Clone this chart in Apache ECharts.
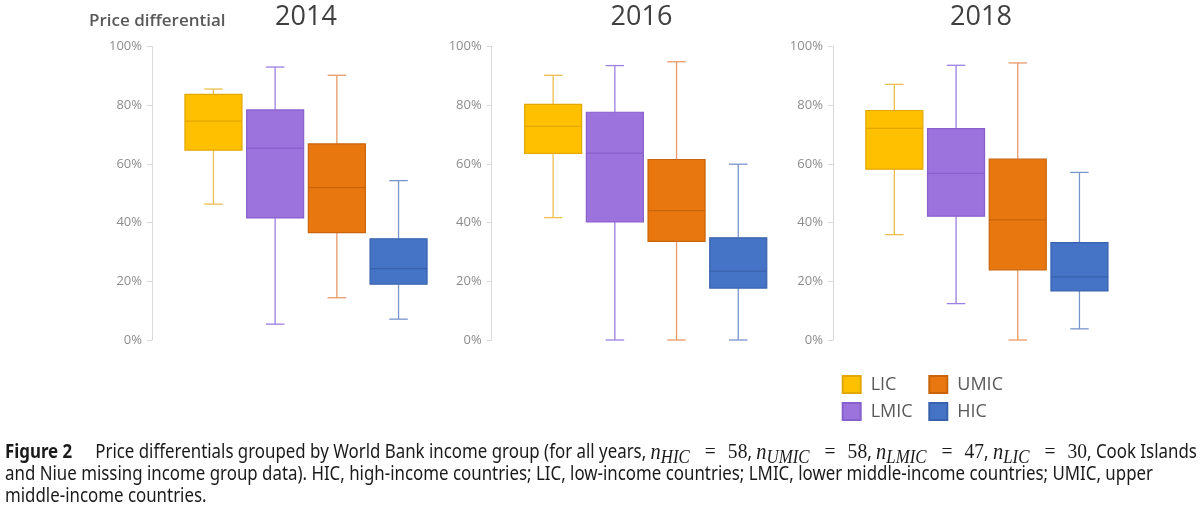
<!DOCTYPE html>
<html><head><meta charset="utf-8">
<script src="https://cdn.jsdelivr.net/npm/echarts@6/dist/echarts.min.js"></script>
<style>html,body{margin:0;padding:0;background:#fff}#c{width:1200px;height:521px}</style>
</head><body><div id="c"></div>
<script>
// ---------- data ----------
var years = ['2014', '2016', '2018'];
var groups = ['LIC', 'LMIC', 'UMIC', 'HIC'];
var yTickStep = 20;
// [min, Q1, median, Q3, max] in %, one row per year
var LIC  = [[46.3, 64.7, 74.6, 83.7, 85.5], [41.7, 63.6, 72.8, 80.3, 90.2], [35.9, 58.2, 72.1, 78.2, 87.1]];
var LMIC = [[5.4, 41.6, 65.4, 78.4, 93.0],  [0.0, 40.2, 63.7, 77.6, 93.5],  [12.4, 42.2, 56.8, 72.0, 93.6]];
var UMIC = [[14.4, 36.6, 51.9, 66.8, 90.2], [0.0, 33.6, 44.1, 61.5, 94.8],  [0.0, 23.9, 40.9, 61.6, 94.4]];
var HIC  = [[7.1, 19.0, 24.3, 34.5, 54.3],  [0.0, 17.7, 23.5, 34.8, 59.9],  [3.8, 16.7, 21.5, 33.2, 57.1]];
var valuesByGroup = { LIC: LIC, LMIC: LMIC, UMIC: UMIC, HIC: HIC };
var sampleSizes = [['HIC', '58'], ['UMIC', '58'], ['LMIC', '47'], ['LIC', '30']];

// ---------- styles ----------
var styles = {
  LIC:  { fill: '#FFC000', border: '#E2A700', whisker: '#EBBE4E' },
  LMIC: { fill: '#9C72DC', border: '#8760CC', whisker: '#9B7FE2' },
  UMIC: { fill: '#E8770F', border: '#C9640A', whisker: '#E99A66' },
  HIC:  { fill: '#4573C6', border: '#3962AC', whisker: '#7895CC' }
};
var gridCenters = [306, 645.7, 986.9];
var gridWidth = 246.8;
var axisOffset = 30.6;
var titleX = [306, 641.5, 981];

function makeRender(st) {
  return function (params, api) {
    var x = api.value(0);
    var p = [1, 2, 3, 4, 5].map(function (i) { return api.coord([x, api.value(i)]); });
    var band = api.size([1, 0])[0];
    var bw = band * 0.924, cw = band * 0.30;
    var cx = p[0][0];
    var ws = { stroke: st.whisker, lineWidth: 1.3 };
    return {
      type: 'group',
      children: [
        { type: 'line', shape: { x1: cx, y1: p[4][1], x2: cx, y2: p[3][1] }, style: ws },
        { type: 'line', shape: { x1: cx, y1: p[1][1], x2: cx, y2: p[0][1] }, style: ws },
        { type: 'line', shape: { x1: cx - cw / 2, y1: p[4][1], x2: cx + cw / 2, y2: p[4][1] }, style: ws },
        { type: 'line', shape: { x1: cx - cw / 2, y1: p[0][1], x2: cx + cw / 2, y2: p[0][1] }, style: ws },
        { type: 'rect', shape: { x: cx - bw / 2, y: p[3][1], width: bw, height: p[1][1] - p[3][1] },
          style: { fill: st.fill, stroke: st.border, lineWidth: 1.2 } },
        { type: 'line', shape: { x1: cx - bw / 2, y1: p[2][1], x2: cx + bw / 2, y2: p[2][1] },
          style: { stroke: st.border, lineWidth: 1.2 } }
      ]
    };
  };
}

var grids = [], xAxes = [], yAxes = [], series = [];
years.forEach(function (yr, yi) {
  grids.push({ left: gridCenters[yi] - gridWidth / 2, width: gridWidth, top: 46.5, height: 293.5, outerBoundsMode: 'none', containLabel: false });
  xAxes.push({ type: 'category', gridIndex: yi, data: groups, show: false });
  yAxes.push({
    type: 'value', gridIndex: yi, min: 0, max: 100, interval: yTickStep, offset: axisOffset,
    axisLine: { show: true, lineStyle: { color: '#D9D9D9', width: 1 } },
    axisTick: { show: true, length: 5, lineStyle: { color: '#D9D9D9' } },
    splitLine: { show: false },
    axisLabel: { formatter: '{value}%', color: '#8C8C8C', fontSize: 13, fontFamily: 'Open Sans', margin: 10 }
  });
  groups.forEach(function (g) {
    var st = styles[g];
    series.push({
      type: 'custom', name: g, xAxisIndex: yi, yAxisIndex: yi,
      itemStyle: { color: st.fill, borderColor: st.border, borderWidth: 1 },
      encode: { x: 0, y: [1, 2, 3, 4, 5] },
      data: [[g].concat(valuesByGroup[g][yi])],
      renderItem: makeRender(st)
    });
  });
});

var legendText = { color: '#595959', fontSize: 18, fontFamily: 'Open Sans', padding: [0, 0, 0, 5] };
var graphics = [
  { type: 'text', style: { text: 'Price differential', x: 89, y: 20.7, verticalAlign: 'middle', fill: '#595959', fontSize: 17, fontWeight: 600, fontFamily: 'Open Sans' } }
];
years.forEach(function (yr, yi) {
  graphics.push({ type: 'text', style: { text: yr, x: titleX[yi], y: 17.7, align: 'center', verticalAlign: 'middle', fill: '#404040', fontSize: 27, fontFamily: 'Open Sans' } });
});

var capFamily = 'Noto Sans';
var capSize = 19;
var mathPart = sampleSizes.map(function (s) {
  return '{m|n}{s|' + s[0] + '}{w|}{e|=}{v|}{e|' + s[1] + '}';
}).join(', ');
var captionLines = [
  '{b|Figure 2}{g|}Price differentials grouped by World Bank income group (for all years, ' + mathPart + ', Cook Islands',
  'and Niue missing income group data). HIC, high-income countries; LIC, low-income countries; LMIC, lower middle-income countries; UMIC, upper',
  'middle-income countries.'
];
// horizontal condensing so the full second caption line spans the reference width
var mctx = document.createElement('canvas').getContext('2d');
mctx.font = capSize + 'px "' + capFamily + '"';
var capScale = 1148 / mctx.measureText(captionLines[1]).width;

var capRich = {
  b: { fontWeight: 'bold', fontFamily: capFamily, fontSize: capSize, fill: '#1a1a1a', lineHeight: 22 },
  g: { width: 23 / capScale, lineHeight: 22 },
  w: { width: 15 / capScale, lineHeight: 22 },
  v: { width: 12 / capScale, lineHeight: 22 },
  m: { fontFamily: 'Liberation Serif', fontStyle: 'italic', fontSize: 23, fill: '#1a1a1a', lineHeight: 22 },
  s: { fontFamily: 'Liberation Serif', fontStyle: 'italic', fontSize: 19, fill: '#1a1a1a', lineHeight: 8, padding: [10, 0, 0, 0] },
  e: { fontFamily: 'Liberation Serif', fontSize: 22, fill: '#1a1a1a', lineHeight: 22 }
};
var captionY = [452.5, 474.5, 496.5];
captionLines.forEach(function (t, i) {
  graphics.push({ type: 'text', x: 5, y: captionY[i], scaleX: capScale,
    style: { text: t, rich: capRich, x: 0, y: 0, verticalAlign: 'middle', fill: '#1a1a1a', fontSize: capSize, lineHeight: 22, fontFamily: capFamily } });
});

var chart = echarts.init(document.getElementById('c'), null, { renderer: 'canvas' });
chart.setOption({
  animation: false,
  backgroundColor: '#fff',
  grid: grids, xAxis: xAxes, yAxis: yAxes, series: series,
  legend: [
    { orient: 'vertical', left: 841.7, top: 375, data: ['LIC', 'LMIC'], icon: 'rect', itemWidth: 18, itemHeight: 17, itemGap: 8, textStyle: legendText, padding: 0 },
    { orient: 'vertical', left: 928.3, top: 375, data: ['UMIC', 'HIC'], icon: 'rect', itemWidth: 18, itemHeight: 17, itemGap: 8, textStyle: legendText, padding: 0 }
  ],
  graphic: graphics
});
</script></body></html>
